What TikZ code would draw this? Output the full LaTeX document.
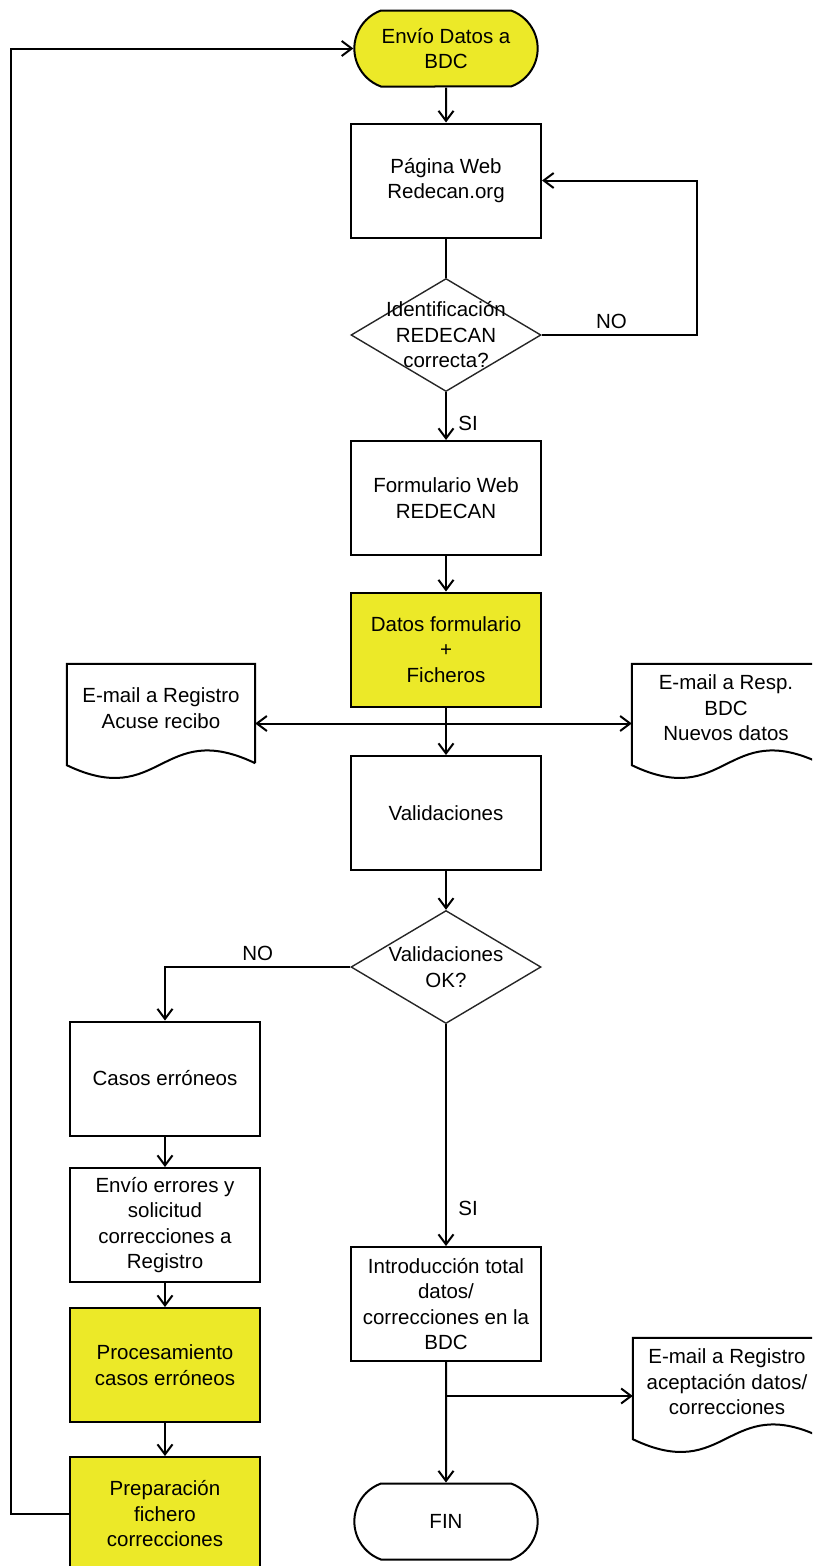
\documentclass[tikz,border=0pt]{standalone}
\usepackage{fontspec}
\setmainfont{Liberation Sans}
\usepackage{tikz}
\usetikzlibrary{arrows.meta,
calc,
positioning,
shapes.geometric,
shapes.misc
}
\definecolor{boxyellow}{RGB}{236,233,40}
\newcommand{\boxfont}{\fontsize{20.5}{25.5}\selectfont}
\tikzset{>={Straight Barb[length=10pt,width=15pt]}}
\tikzset{
  every node/.append style={font=\boxfont},
  stepbox/.style={draw, rectangle, line width=2pt, minimum width=190pt, minimum height=114pt, align=center},
  termbox/.style={draw, rounded rectangle, rounded rectangle arc length=140, line width=2pt, minimum width=190pt, minimum height=76pt, align=center},
  decision/.style={draw=black!85, diamond, line width=1.4pt, minimum width=190pt, minimum height=113pt, inner sep=0pt},
  docbox/.style={rectangle, minimum width=188pt, minimum height=88pt, align=center},
  docline/.style={line width=2pt},
  flow/.style={line width=2pt}
}

\begin{document}
\begin{tikzpicture}[x=1pt, y=-1pt]
        \useasboundingbox (0, 0) rectangle (812, 1566);
        \clip (0, 0) rectangle (812, 1566);
        % main column
        \node[termbox, fill=boxyellow] (start) at (446, 48.5) {Envío Datos a\\BDC};
        \node[stepbox] (pagina) at (446, 180.5) {Página Web\\Redecan.org};
        \node[decision, label={[align=center]center:Identificación\\REDECAN\\correcta?}] (ident) at (446, 335) {};
        \node[stepbox] (formulario) at (446, 498) {Formulario Web\\REDECAN};
        \node[stepbox, fill=boxyellow] (datos) at (446, 649.5) {Datos formulario\\+\\Ficheros};
        \node[stepbox] (valid) at (446, 813) {Validaciones};
        \node[decision, label={[align=center]center:Validaciones\\OK?}] (valok) at (446, 967) {};
        \node[stepbox] (intro) at (446, 1304) {Introducción total\\datos/\\correcciones en la\\BDC};
        \node[termbox] (fin) at (446, 1521.5) {FIN};
        % error column
        \node[stepbox] (casos) at (165, 1078.5) {Casos erróneos};
        \node[stepbox] (envio) at (165, 1225) {Envío errores y\\solicitud\\correcciones a\\Registro};
        \node[stepbox, fill=boxyellow] (proces) at (165, 1365) {Procesamiento\\casos erróneos};
        \node[stepbox, fill=boxyellow] (prepar) at (165, 1514) {Preparación\\fichero\\correcciones};
        % e-mails
        \node[docbox] (mailA) at (161, 708) {E-mail a Registro\\Acuse recibo};
        \node[docbox] (mailB) at (726, 708) {E-mail a Resp.\\BDC\\Nuevos datos};
        \node[docbox] (mailC) at (727, 1382) {E-mail a Registro\\aceptación datos/\\correcciones};
        \foreach \d in {mailA, mailB, mailC} {
            \draw[docline] ($(\d.south east)+(0,11)$) -- (\d.north east) -- (\d.north west) -- ($(\d.south west)+(0,13)$)
                .. controls +(94,45) and +(-94,-45) .. ($(\d.south east)+(0,11)$);
        }
        % connectors
        \draw[flow, ->] (start) -- (pagina);
        \draw[flow] (pagina) -- (ident);
        \draw[flow, ->] (ident.east) -- node[above=2pt, pos=0.45] {NO} ++(155, 0) |- (pagina.east);
        \draw[flow, ->] (ident) -- node[right=8pt, pos=0.66] {SI} (formulario);
        \draw[flow, ->] (formulario) -- (datos);
        \draw[flow, ->] (datos) -- (valid);
        \coordinate (split) at ($(datos.south)+(0,16)$);
        \draw[flow, <->] (split -| mailA.east) -- (split -| mailB.west);
        \draw[flow, ->] (valid) -- (valok);
        \draw[flow, ->] (valok.west) -| node[above=2pt, pos=0.25] {NO} (casos.north);
        \draw[flow, ->] (valok) -- node[right=8pt, pos=0.83] {SI} (intro);
        \draw[flow, ->] (casos) -- (envio);
        \draw[flow, ->] (envio) -- (proces);
        \draw[flow, ->] (proces) -- (prepar);
        \draw[flow, ->] (prepar.west) -- ++(-58, 0) |- (start.west);
        \draw[flow, ->] (intro) -- (fin);
        \coordinate (join) at ($(intro.south)+(0,34)$);
        \draw[flow, ->] (join) -- (join -| mailC.west);
    \end{tikzpicture}
\end{document}
